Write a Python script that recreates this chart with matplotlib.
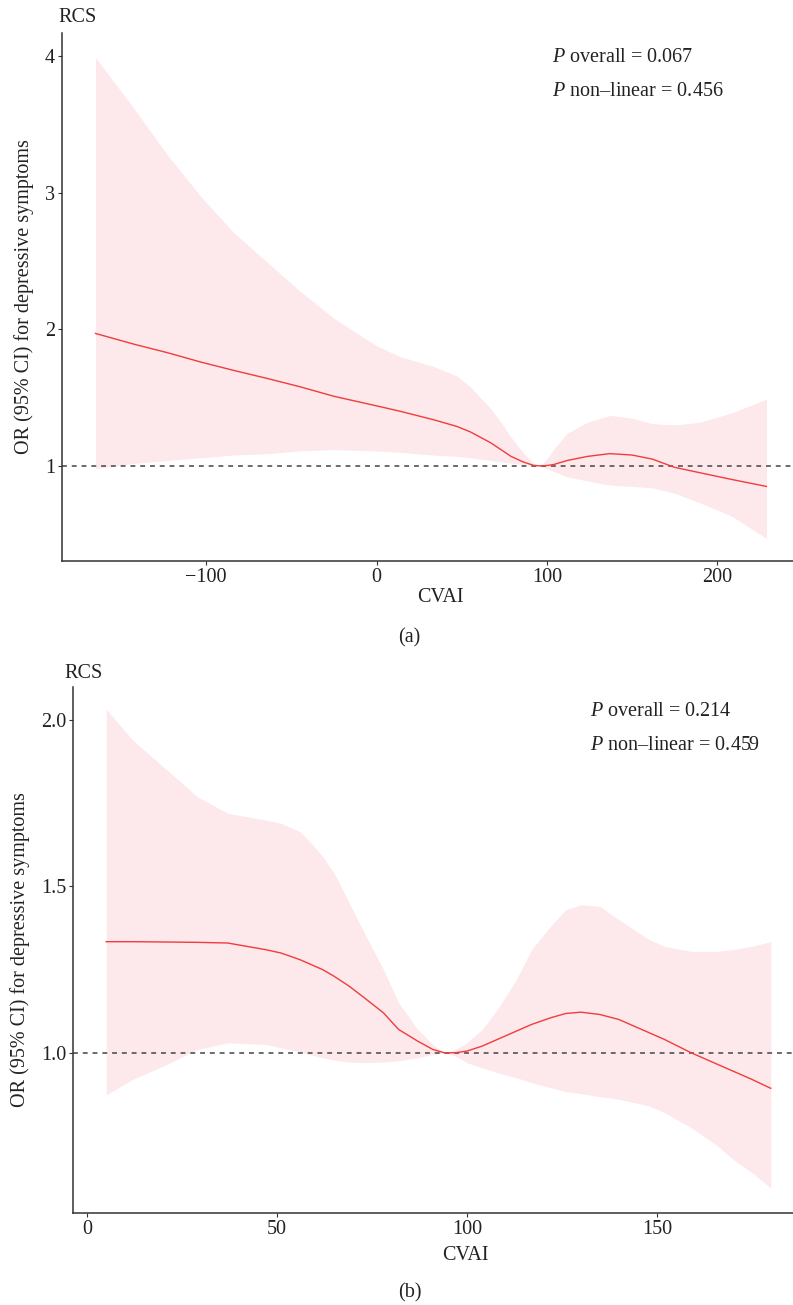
import numpy as np
import matplotlib
matplotlib.use('Agg')
import matplotlib.pyplot as plt

plt.rcParams['font.family'] = ['Liberation Serif', 'DejaVu Serif']
plt.rcParams['mathtext.fontset'] = 'custom'
plt.rcParams['mathtext.it'] = 'Liberation Serif:italic'
plt.rcParams['mathtext.rm'] = 'Liberation Serif'

# panel (a)
cvai_a = [-165, -142, -123, -103, -84, -64, -45, -25, 0, 14, 33, 47, 55, 61, 67,
          73, 79, 86, 92, 96, 100, 104, 112, 124, 137, 150, 162, 175, 190, 209, 229]
or_a = [1.97, 1.89, 1.83, 1.76, 1.70, 1.64, 1.58, 1.51, 1.44, 1.40, 1.34, 1.29, 1.25, 1.21, 1.17,
        1.12, 1.07, 1.03, 1.005, 1.0, 1.003, 1.01, 1.04, 1.07, 1.09, 1.08, 1.05, 0.99, 0.95, 0.90, 0.85]
up_a = [3.99, 3.61, 3.28, 2.97, 2.71, 2.49, 2.28, 2.08, 1.88, 1.80, 1.73, 1.66, 1.58, 1.50, 1.42,
        1.32, 1.21, 1.10, 1.02, 1.0, 1.05, 1.12, 1.24, 1.32, 1.37, 1.35, 1.31, 1.30, 1.32, 1.39, 1.49]
lo_a = [0.98, 1.02, 1.04, 1.06, 1.08, 1.09, 1.11, 1.12, 1.11, 1.10, 1.08, 1.07, 1.06, 1.05, 1.04,
        1.03, 1.02, 1.01, 1.0, 1.0, 0.98, 0.96, 0.92, 0.89, 0.86, 0.85, 0.84, 0.80, 0.73, 0.63, 0.47]

# panel (b)
cvai_b = [5, 12, 21, 29, 37, 47, 51, 56, 59, 62, 65, 69, 73, 78, 82, 87, 91, 94, 97, 100,
          104, 108, 113, 117, 122, 126, 130, 135, 140, 148, 152, 159, 166, 170, 175, 180]
or_b = [1.334, 1.334, 1.333, 1.332, 1.33, 1.31, 1.30, 1.28, 1.265, 1.25, 1.23, 1.20, 1.165, 1.12, 1.07,
        1.035, 1.01, 1.0, 1.0, 1.005, 1.02, 1.04, 1.065, 1.085, 1.105, 1.118, 1.122, 1.115, 1.10, 1.06,
        1.04, 1.0, 0.965, 0.945, 0.92, 0.893]
up_b = [2.033, 1.94, 1.85, 1.77, 1.72, 1.70, 1.69, 1.665, 1.63, 1.59, 1.54, 1.45, 1.36, 1.25, 1.15,
        1.07, 1.025, 1.0, 1.01, 1.03, 1.07, 1.13, 1.22, 1.31, 1.38, 1.43, 1.445, 1.44, 1.40, 1.34,
        1.32, 1.305, 1.305, 1.31, 1.32, 1.334]
lo_b = [0.873, 0.92, 0.965, 1.01, 1.03, 1.025, 1.015, 1.003, 0.993, 0.985, 0.978, 0.972, 0.97, 0.972, 0.976,
        0.985, 0.995, 1.0, 0.99, 0.97, 0.955, 0.94, 0.925, 0.91, 0.895, 0.883, 0.877, 0.868, 0.86, 0.84,
        0.82, 0.775, 0.72, 0.68, 0.64, 0.593]

panels = [
    dict(x=cvai_a, y=or_a, up=up_a, lo=lo_a, xticks=[-100, 0, 100, 200], yticks=[1, 2, 3, 4],
         ylabels=['1', '2', '3', '4'], xlim=(-184.7, 248.7), ylim=(0.304, 4.17),
         pos=[62 / 793, 1 - 561 / 1305, (800 - 62) / 793, (561 - 33) / 1305],
         p_all='0.067', p_nl='0.456', ptext=(552, 57), rcs=(78, 17), ylab=(24, 297),
         cvai=(440, 598), tag='(a)', tagpos=(409, 638)),
    dict(x=cvai_b, y=or_b, up=up_b, lo=lo_b, xticks=[0, 50, 100, 150], yticks=[1.0, 1.5, 2.0],
         ylabels=['1.0', '1.5', '2.0'], xlim=(-3.75, 188.75), ylim=(0.518, 2.10),
         pos=[73 / 793, 1 - 1213 / 1305, (804 - 73) / 793, (1213 - 687) / 1305],
         p_all='0.214', p_nl='0.459', ptext=(590, 711), rcs=(84, 673), ylab=(20, 950),
         cvai=(465, 1255), tag='(b)', tagpos=(410, 1293)),
]

W, H = 793, 1305
fig = plt.figure(figsize=(W / 100, H / 100), dpi=100)
fs = 14.5
tc = '#222222'

for p in panels:
    ax = fig.add_axes(p['pos'])
    ax.fill_between(p['x'], p['lo'], p['up'], color='#FDE8EB', lw=0, zorder=1)
    ax.plot(p['x'], p['y'], color='#F03C3C', lw=1.0, zorder=3)
    ax.axhline(1, color='#444444', lw=1.1, ls=(0, (3.2, 3.2)), zorder=2)
    ax.set_xlim(*p['xlim'])
    ax.set_ylim(*p['ylim'])
    ax.set_xticks(p['xticks'])
    ax.set_xticklabels([str(t).replace('-', '\u2212') for t in p['xticks']])
    ax.set_yticks(p['yticks'])
    ax.set_yticklabels(p['ylabels'])
    for s in ['top', 'right']:
        ax.spines[s].set_visible(False)
    for s in ['left', 'bottom']:
        ax.spines[s].set_linewidth(1.1)
        ax.spines[s].set_color('#333333')
    ax.tick_params(length=3, width=0.8, color='#333333', labelsize=fs, labelcolor=tc, pad=2)
    ax.patch.set_alpha(0)

    fig.text(p['ptext'][0] / W, 1 - p['ptext'][1] / H, r'$\it{P}$' + ' overall = ' + p['p_all'],
             fontsize=fs, color=tc, ha='left', va='center')
    fig.text(p['ptext'][0] / W, 1 - (p['ptext'][1] + 35) / H, r'$\it{P}$' + ' non\u2013linear = ' + p['p_nl'],
             fontsize=fs, color=tc, ha='left', va='center')
    fig.text(p['rcs'][0] / W, 1 - p['rcs'][1] / H, 'RCS', fontsize=fs, color=tc, ha='center', va='center')
    fig.text(p['ylab'][0] / W, 1 - p['ylab'][1] / H, 'OR (95% CI) for depressive symptoms',
             fontsize=fs, color=tc, ha='center', va='center', rotation=90)
    fig.text(p['cvai'][0] / W, 1 - p['cvai'][1] / H, 'CVAI', fontsize=fs, color=tc, ha='center', va='center')
    fig.text(p['tagpos'][0] / W, 1 - p['tagpos'][1] / H, p['tag'], fontsize=fs, color=tc, ha='center', va='center')

fig.savefig('out.png', dpi=100)
